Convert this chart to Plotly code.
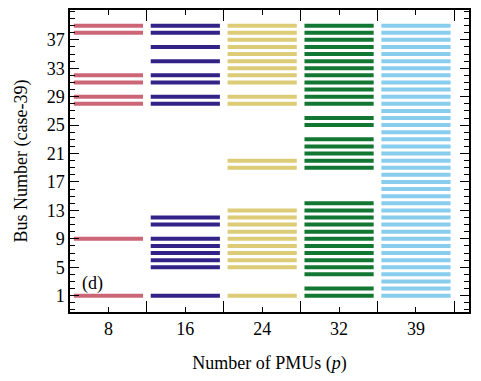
import plotly.graph_objects as go

# PMU counts (categories on the x axis)
pmu_labels = ["8", "16", "24", "32", "39"]
colors = ["#CC6677", "#332288", "#DDCC77", "#117733", "#88CCEE"]

# buses selected for each PMU count
buses_8 = [1, 9, 28, 29, 31, 32, 38, 39]
buses_16 = [1, 5, 6, 7, 8, 9, 11, 12, 28, 29, 31, 32, 34, 36, 38, 39]
buses_24 = [1, 5, 6, 7, 8, 9, 10, 11, 12, 13, 19, 20, 28, 29, 31, 32, 33, 34, 35, 36, 37, 38, 39]
buses_32 = [1, 2, 4, 5, 6, 7, 8, 9, 10, 11, 12, 13, 14, 19, 20, 21, 22, 23, 25, 26,
            28, 29, 30, 31, 32, 33, 34, 35, 36, 37, 38, 39]
buses_39 = [1, 2, 3, 4, 5, 6, 7, 8, 9, 10, 11, 12, 13, 14, 15, 16, 17, 18, 19, 20,
            21, 22, 23, 24, 25, 26, 27, 28, 29, 30, 31, 32, 33, 34, 35, 36, 37, 38, 39]
all_buses = [buses_8, buses_16, buses_24, buses_32, buses_39]

y_ticks = [1, 5, 9, 13, 17, 21, 25, 29, 33, 37]

half = 0.45  # half width of each bar segment (category units)

fig = go.Figure()
for i, (buses, col) in enumerate(zip(all_buses, colors)):
    xs, ys = [], []
    for b in buses:
        xs += [i - half, i + half, None]
        ys += [b, b, None]
    fig.add_trace(go.Scatter(x=xs, y=ys, mode="lines",
                             line=dict(color=col, width=4),
                             showlegend=False, hoverinfo="skip"))

font = dict(family="Liberation Serif, Times New Roman, serif", size=18, color="black")

fig.update_xaxes(range=[-0.5, 4.69], tickvals=list(range(len(pmu_labels))), ticktext=pmu_labels,
                 ticks="inside", ticklen=5, tickwidth=1.3, tickcolor="black",
                 minor=dict(tickvals=[0.5, 1.5, 2.5, 3.5, 4.5], ticks="inside", ticklen=11,
                            tickwidth=1.3, tickcolor="black"),
                 showline=True, linecolor="black", linewidth=1.5, mirror="allticks",
                 showgrid=False, zeroline=False, tickfont=font, automargin=False,
                 title=dict(text="Number of PMUs (<i>p</i>)", font=font, standoff=18))
fig.update_yaxes(range=[-1.3, 41.2], tickvals=y_ticks,
                 ticks="inside", ticklen=9, tickwidth=1.3, tickcolor="black",
                 minor=dict(dtick=1, tick0=0, ticks="inside", ticklen=5,
                            tickwidth=1.1, tickcolor="black", showgrid=False),
                 showline=True, linecolor="black", linewidth=1.5, mirror="allticks",
                 showgrid=False, zeroline=False, tickfont=font, automargin=False,
                 title=dict(text="Bus Number (case-39)", font=font, standoff=14))

fig.add_annotation(text="(d)", x=0.056, y=0.095, xref="paper", yref="paper",
                   xanchor="center", yanchor="middle", showarrow=False, font=font)

fig.update_layout(width=481, height=381, plot_bgcolor="white", paper_bgcolor="white",
                  margin=dict(l=70, r=12, t=10, b=69))
# drop the default 8px body margin so the figure sits at the window origin
fig.write_html("out.html", config={"displayModeBar": False},
               post_script="document.body.style.margin='0';")
